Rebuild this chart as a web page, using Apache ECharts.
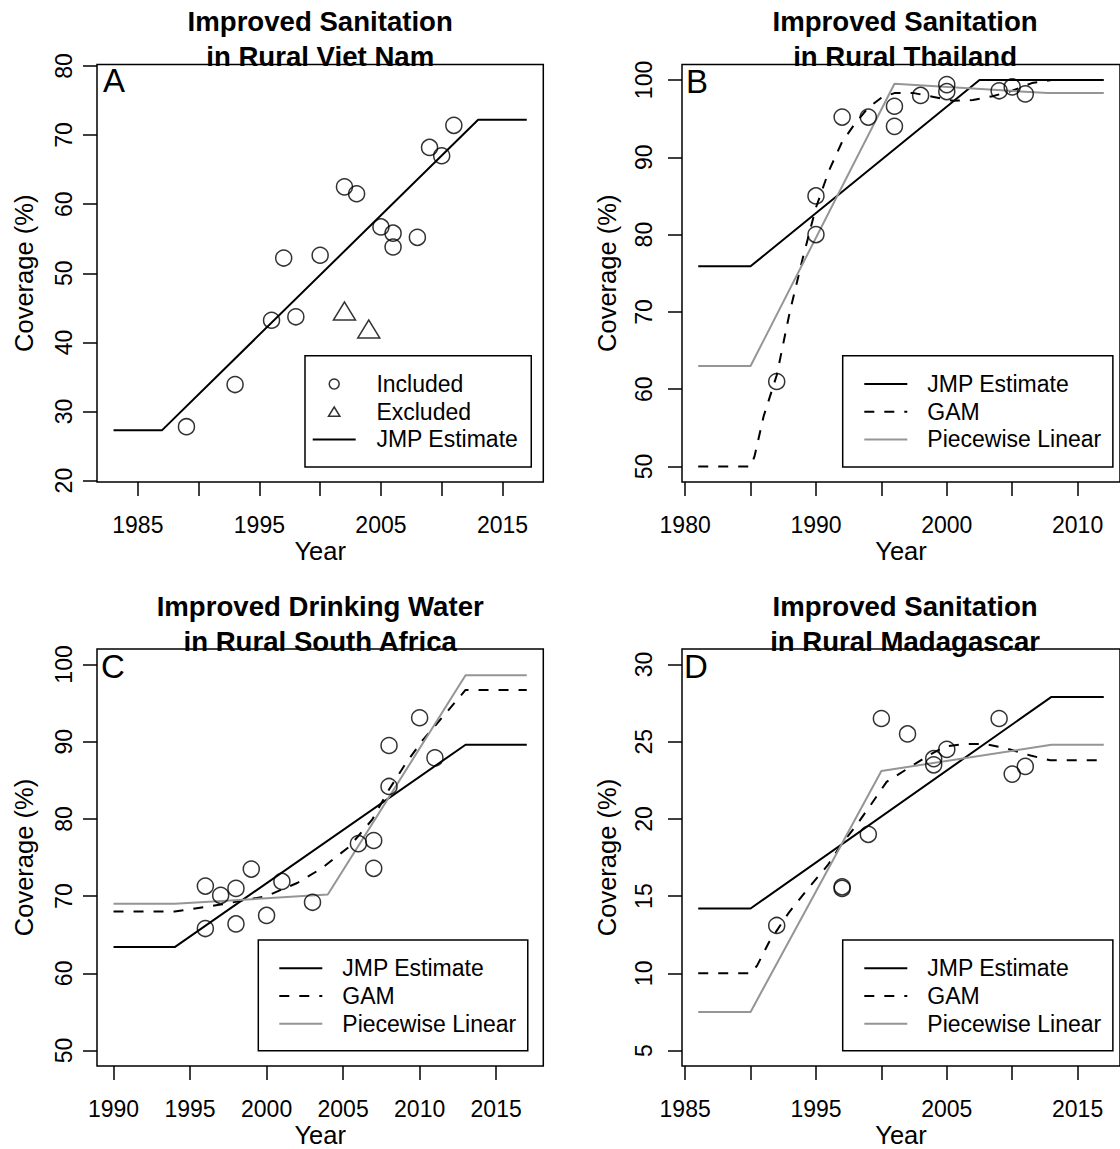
<!DOCTYPE html>
<html>
<head>
<meta charset="utf-8">
<script src="https://cdn.jsdelivr.net/npm/echarts@6/dist/echarts.min.js"></script>
<style>
html,body{margin:0;padding:0;background:#fff;}
#chart{width:1120px;height:1149px;}
</style>
</head>
<body>
<div id="chart"></div>
<script>
// ---------- Data ----------
// A: Improved Sanitation in Rural Viet Nam
const vnIncludedYear = [1989,1993,1996,1997,1998,2000,2002,2003,2005,2006,2006,2008,2009,2010,2011];
const vnIncludedCov  = [27.8,33.9,43.2,52.2,43.7,52.6,62.5,61.5,56.7,55.8,53.8,55.2,68.2,67.0,71.4];
const vnExcludedYear = [2002,2004];
const vnExcludedCov  = [44.1,41.5];
const vnJmpYear = [1983,1987,2013,2017];
const vnJmpCov  = [27.3,27.3,72.2,72.2];

// B: Improved Sanitation in Rural Thailand
const thIncludedYear = [1987,1990,1990,1992,1994,1996,1996,1998,2000,2000,2004,2005,2006];
const thIncludedCov  = [61.0,85.0,80.0,95.2,95.2,96.6,94.0,98.0,99.4,98.5,98.6,99.1,98.2];
const thJmpYear = [1981,1985,2002.5,2012];
const thJmpCov  = [75.9,75.9,100,100];
const thGamYear = [1981,1985,1985.3,1986,1987,1988,1989,1990,1991,1992,1993,1994,1995,1996,1997.5,1999,2000.5,2002,2003.5,2005,2006.5,2008,2012];
const thGamCov  = [50,50,51.3,56.5,61.8,70.0,77.0,83.5,88.3,92.0,94.4,96.4,97.7,98.3,98.3,97.8,97.3,97.4,97.9,98.6,99.6,100,100];
const thPwlYear = [1981,1985,1996,2007.7,2012];
const thPwlCov  = [63.0,63.0,99.5,98.3,98.3];

// C: Improved Drinking Water in Rural South Africa
const zaIncludedYear = [1996,1996,1997,1998,1998,1999,2000,2001,2003,2006,2007,2007,2008,2008,2010,2011];
const zaIncludedCov  = [71.3,65.8,70.1,71.0,66.4,73.5,67.5,71.9,69.2,76.8,77.2,73.6,84.2,89.5,93.1,87.9];
const zaJmpYear = [1990,1994,2013,2017];
const zaJmpCov  = [63.4,63.4,89.6,89.6];
const zaGamYear = [1990,1994,1997,2000,2002,2003.6,2005.4,2006.9,2008,2009.1,2010.2,2011.5,2013,2017];
const zaGamCov  = [68.0,68.0,68.9,70.0,71.7,73.6,76.4,79.9,83.8,87.2,90.2,93.2,96.7,96.7];
const zaPwlYear = [1990,1994,2004,2013,2017];
const zaPwlCov  = [69.0,69.0,70.2,98.6,98.6];

// D: Improved Sanitation in Rural Madagascar
const mgIncludedYear = [1992,1997,1997,1999,2000,2002,2004,2004,2005,2009,2010,2011];
const mgIncludedCov  = [13.1,15.5,15.6,19.0,26.5,25.5,23.5,23.9,24.5,26.5,22.9,23.4];
const mgJmpYear = [1986,1990,2013,2017];
const mgJmpCov  = [14.2,14.2,27.9,27.9];
const mgGamYear = [1986,1990,1990.5,1991.4,1992.9,1994.4,1995.9,1996.9,1998.1,1999.1,2000.4,2001.9,2003.6,2004.9,2006.4,2007.9,2009.4,2011.4,2012.9,2017];
const mgGamCov  = [10.0,10.0,10.5,12.0,13.9,15.5,17.0,18.3,19.6,20.8,22.4,23.2,24.1,24.7,24.85,24.85,24.6,24.1,23.8,23.8];
const mgPwlYear = [1986,1990,2000,2013,2017];
const mgPwlCov  = [7.5,7.5,23.1,24.8,24.8];

// Titles and tick labels
const panelTitles = [
  'Improved Sanitation\nin Rural Viet Nam',
  'Improved Sanitation\nin Rural Thailand',
  'Improved Drinking Water\nin Rural South Africa',
  'Improved Sanitation\nin Rural Madagascar'
];
const panelLetters = ['A','B','C','D'];
const xTicksA = [1985,1990,1995,2000,2005,2010,2015];
const xLabelsA = [1985,1995,2005,2015];
const yTicksA = [20,30,40,50,60,70,80];
const xTicksB = [1980,1985,1990,1995,2000,2005,2010];
const xLabelsB = [1980,1990,2000,2010];
const yTicksB = [50,60,70,80,90,100];
const xTicksC = [1990,1995,2000,2005,2010,2015];
const xLabelsC = [1990,1995,2000,2005,2010,2015];
const yTicksC = [50,60,70,80,90,100];
const xTicksD = [1985,1990,1995,2000,2005,2010,2015];
const xLabelsD = [1985,1995,2005,2015];
const yTicksD = [5,10,15,20,25,30];

// ---------- Chart ----------
const FONT = '"Liberation Sans", Arial, Helvetica, sans-serif';
const zip = (xs, ys) => xs.map((x, i) => [x, ys[i]]);

const grids = [
  {left: 97, top: 64.5, width: 446.3, height: 417.5},
  {left: 682, top: 64.5, width: 446.2, height: 417.5},
  {left: 97, top: 649, width: 446.3, height: 417.7},
  {left: 682, top: 649, width: 446.2, height: 417.7}
].map(g => Object.assign({show: true, borderColor: '#000', borderWidth: 1.5, backgroundColor: 'transparent'}, g));

const xRanges = [[1981.64, 2018.36],[1979.76, 2013.24],[1988.92, 2018.08],[1984.76, 2018.24]];
const yRanges = [[19.8, 80.2],[48, 102],[48, 102],[4, 31]];
const xTicks = [xTicksA, xTicksB, xTicksC, xTicksD];
const xLabels = [xLabelsA, xLabelsB, xLabelsC, xLabelsD];
const yTicks = [yTicksA, yTicksB, yTicksC, yTicksD];
const yLabelMargin = [21.5, 27, 21.5, 27];
const yNameGap = [60, 62, 60, 62];

const xAxes = [0,1,2,3].map(i => ({
  type: 'value', gridIndex: i, min: xRanges[i][0], max: xRanges[i][1],
  name: 'Year', nameLocation: 'middle', nameGap: 56,
  nameTextStyle: {fontSize: 25.5, color: '#000', fontFamily: FONT},
  axisLine: {show: false},
  splitLine: {show: false},
  axisTick: {show: true, length: 14, customValues: xTicks[i], lineStyle: {color: '#000', width: 1.5}},
  axisLabel: {show: true, customValues: xLabels[i], margin: 31, fontSize: 23, color: '#000', fontFamily: FONT,
              formatter: v => String(v)}
}));

const yAxes = [0,1,2,3].map(i => ({
  type: 'value', gridIndex: i, min: yRanges[i][0], max: yRanges[i][1],
  name: 'Coverage (%)', nameLocation: 'middle', nameGap: yNameGap[i],
  nameTextStyle: {fontSize: 25.5, color: '#000', fontFamily: FONT},
  axisLine: {show: false},
  splitLine: {show: false},
  axisTick: {show: true, length: 14, customValues: yTicks[i], lineStyle: {color: '#000', width: 1.5}},
  axisLabel: {show: true, customValues: yTicks[i], rotate: 90, margin: yLabelMargin[i], fontSize: 23, color: '#000', fontFamily: FONT,
              formatter: v => String(v)}
}));

function scatter(i, name, xs, ys, symbol, size, offset) {
  return {
    type: 'scatter', name: name, xAxisIndex: i, yAxisIndex: i,
    data: zip(xs, ys), symbol: symbol, symbolSize: size, symbolOffset: offset || [0, 0],
    symbolKeepAspect: true,
    itemStyle: {color: 'transparent', borderColor: '#000', borderWidth: 1.5},
    z: 5
  };
}
function line(i, name, xs, ys, color, type) {
  return {
    type: 'line', name: name, xAxisIndex: i, yAxisIndex: i,
    data: zip(xs, ys), symbol: 'none', showSymbol: false,
    lineStyle: {color: color, width: 2, type: type || 'solid'},
    itemStyle: {color: color},
    z: 3
  };
}
const DASH = [10, 10];
const GRAY = '#959595';

const series = [
  line(0, 'JMP Estimate', vnJmpYear, vnJmpCov, '#000'),
  scatter(0, 'Included', vnIncludedYear, vnIncludedCov, 'circle', 16),
  scatter(0, 'Excluded', vnExcludedYear, vnExcludedCov, 'triangle', [22, 18], [0, -3]),

  line(1, 'JMP Estimate', thJmpYear, thJmpCov, '#000'),
  line(1, 'GAM', thGamYear, thGamCov, '#000', DASH),
  line(1, 'Piecewise Linear', thPwlYear, thPwlCov, GRAY),
  scatter(1, 'Included', thIncludedYear, thIncludedCov, 'circle', 16),

  line(2, 'JMP Estimate', zaJmpYear, zaJmpCov, '#000'),
  line(2, 'GAM', zaGamYear, zaGamCov, '#000', DASH),
  line(2, 'Piecewise Linear', zaPwlYear, zaPwlCov, GRAY),
  scatter(2, 'Included', zaIncludedYear, zaIncludedCov, 'circle', 16),

  line(3, 'JMP Estimate', mgJmpYear, mgJmpCov, '#000'),
  line(3, 'GAM', mgGamYear, mgGamCov, '#000', DASH),
  line(3, 'Piecewise Linear', mgPwlYear, mgPwlCov, GRAY),
  scatter(3, 'Included', mgIncludedYear, mgIncludedCov, 'circle', 16)
];

// legend entries for line series: hide the middle marker so only the line shows
const noMarker = {color: 'rgba(0,0,0,0)', borderColor: 'rgba(0,0,0,0)', borderWidth: 0};
const markerStyle = {color: 'rgba(0,0,0,0)', borderColor: '#000', borderWidth: 1.5};
const lineItem = name => ({name: name, itemStyle: noMarker});
const markerItem = name => ({name: name, itemStyle: markerStyle});
// small upright triangle centred in the 43x10 icon box (invisible move-to points keep the box size)
const triangleItem = name => ({name: name, icon: 'path://M0,0M43,10M21.5,0.3L27.2,9.6L15.8,9.6Z', itemStyle: markerStyle});

function legend(left, top, padding, items, textPad) {
  return {
    orient: 'vertical', left: left, top: top, padding: padding,
    itemWidth: 43, itemHeight: 10, itemGap: 4.7,
    symbolKeepAspect: true,
    borderColor: '#000', borderWidth: 1.5, backgroundColor: '#fff',
    selectedMode: false,
    textStyle: {fontSize: 23, lineHeight: 23, color: '#000', fontFamily: FONT, padding: [0, 0, 0, textPad]},
    data: items
  };
}
const lineItems = () => ['JMP Estimate', 'GAM', 'Piecewise Linear'].map(lineItem);
const legends = [
  legend(305, 355.7, [16.8, 13, 16, 6.7], [markerItem('Included'), triangleItem('Excluded'), lineItem('JMP Estimate')], 15.7),
  legend(842.7, 355.7, [16.8, 11.7, 16, 20.6], lineItems(), 15),
  legend(258.3, 940, [16.8, 11.6, 15.5, 20], lineItems(), 15),
  legend(842.7, 940, [16.8, 11.7, 15.5, 20.6], lineItems(), 15)
];

const titleCenters = [[320.2, 4.2],[905.1, 4.2],[320.2, 588.5],[905.1, 588.5]];
const letterPos = [[103, 64],[686, 65],[101, 650],[684, 649.5]];
const titles = [];
[0,1,2,3].forEach(i => {
  titles.push({
    text: panelTitles[i], left: titleCenters[i][0], top: titleCenters[i][1], textAlign: 'center', padding: 0,
    textStyle: {fontSize: 27.6, fontWeight: 'bold', lineHeight: 35, color: '#000', fontFamily: FONT}
  });
  titles.push({
    text: panelLetters[i], left: letterPos[i][0], top: letterPos[i][1], padding: 0,
    textStyle: {fontSize: 33, fontWeight: 'normal', lineHeight: 33, color: '#000', fontFamily: FONT}
  });
});

const chart = echarts.init(document.getElementById('chart'), null, {renderer: 'svg'});
chart.setOption({
  animation: false,
  backgroundColor: '#fff',
  title: titles,
  legend: legends,
  grid: grids,
  xAxis: xAxes,
  yAxis: yAxes,
  series: series
});
</script>
</body>
</html>
